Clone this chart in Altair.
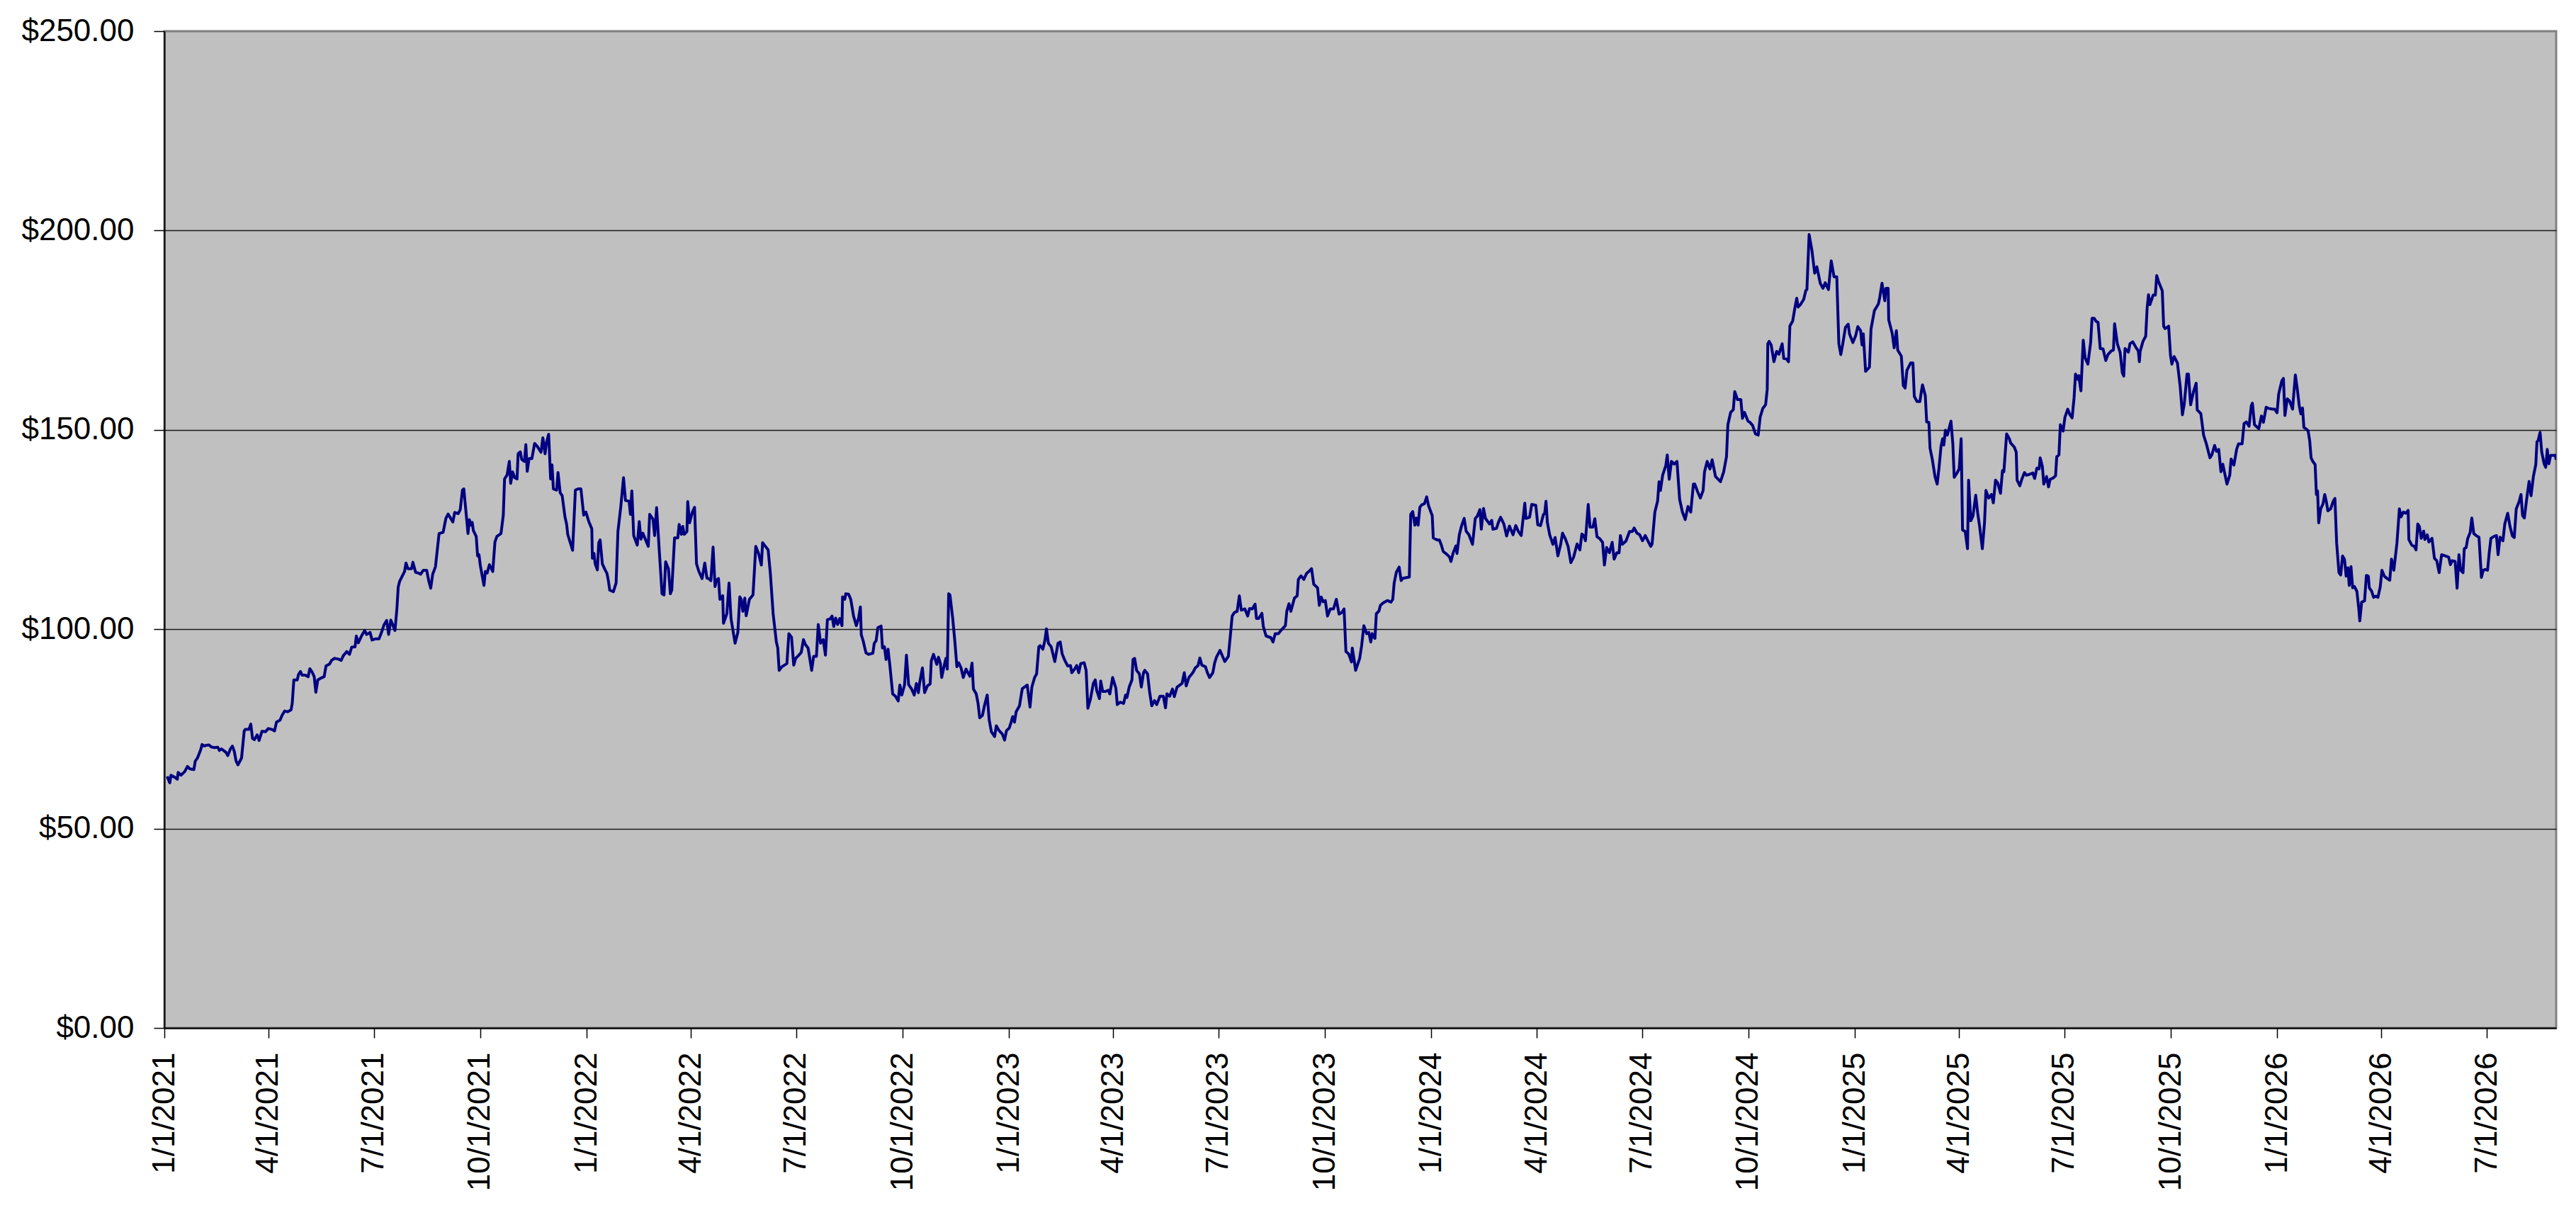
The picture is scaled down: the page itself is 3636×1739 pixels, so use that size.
import altair as alt
import pandas as pd

START = "2021-01-01"

# (days since 1/1/2021, price), one list per year
seg_2021 = [
    (2.4, 63.1), (4.7, 61.5), (5.7, 63.4), (8.8, 62.9), (11.2, 62.4), (11.9, 64.1), (14.3, 63.4), (17.6, 64.3), (20.0, 65.6), (21.9, 65.0),
    (25.5, 64.8), (26.7, 66.9), (28.6, 67.7), (31.4, 69.8), (32.6, 71.1), (34.5, 70.7), (36.2, 70.9), (38.6, 71.0), (40.5, 70.5), (43.3, 70.3),
    (46.2, 70.4), (47.6, 69.6), (49.3, 70.0), (51.6, 69.5), (53.3, 69.1), (54.8, 68.3), (57.1, 70.0), (58.8, 70.7), (60.5, 69.3), (61.9, 67.0),
    (63.6, 66.0), (66.7, 67.7), (69.0, 74.5), (70.0, 74.9), (73.1, 74.9), (74.7, 76.2), (76.2, 72.6), (77.8, 72.3), (80.2, 73.5), (81.9, 72.1),
    (84.3, 74.4), (87.4, 74.3), (89.8, 75.1), (92.8, 74.9), (95.2, 74.5), (96.9, 76.7), (100.0, 77.2), (101.7, 78.4), (104.0, 79.5), (106.4, 79.3),
    (109.5, 79.8), (110.5, 81.4), (111.9, 87.3), (114.8, 87.3), (116.0, 88.7), (117.6, 89.4), (119.0, 88.5), (121.9, 88.5), (124.3, 88.1), (125.7, 90.1),
    (127.8, 89.2), (129.5, 88.1), (130.9, 84.2), (132.6, 87.3), (135.7, 87.8), (138.1, 88.1), (139.7, 90.8), (142.8, 91.3), (144.5, 92.2), (146.9, 92.7),
    (150.5, 92.5), (152.8, 92.2), (154.7, 93.4), (157.6, 94.4), (160.0, 93.7), (161.9, 95.5), (164.8, 95.6), (165.9, 98.3), (167.6, 96.6), (170.7, 98.5),
    (173.1, 99.7), (174.8, 98.7), (177.8, 99.2), (179.5, 97.3), (182.6, 97.6), (185.5, 97.6), (187.4, 99.0), (189.8, 101.1), (192.1, 102.2), (193.8, 98.7),
    (195.7, 102.3), (199.3, 99.7), (201.0, 105.3), (202.1, 110.6), (203.3, 112.0), (205.2, 113.1), (207.6, 114.5), (208.8, 116.6), (210.5, 115.2), (213.6, 115.2),
    (214.8, 116.8), (217.1, 114.3), (219.5, 114.1), (221.4, 113.8), (223.8, 114.8), (226.7, 114.8), (228.6, 112.0), (230.2, 110.3), (231.9, 113.8), (234.3, 115.7),
    (237.4, 124.0), (240.9, 124.3), (243.3, 127.8), (245.2, 128.9), (249.3, 126.9), (250.9, 129.3), (254.0, 129.0), (255.7, 130.0), (257.6, 134.9), (258.8, 135.2),
    (262.4, 124.0), (263.6, 127.5), (264.8, 126.1), (266.0, 126.8), (267.1, 124.7), (269.5, 123.3), (270.7, 118.4), (271.9, 118.7), (273.1, 115.9), (276.2, 111.0),
    (277.4, 114.5), (279.0, 114.1), (280.9, 116.2), (283.8, 114.5), (285.7, 121.9), (287.4, 123.3), (290.9, 124.0), (292.9, 128.6), (294.0, 137.7), (296.2, 138.7),
    (298.1, 142.1), (299.3, 136.6), (300.9, 139.5), (302.8, 138.0), (304.8, 137.7), (305.7, 144.0), (307.6, 144.5), (308.8, 142.6), (311.2, 142.1), (312.4, 146.3),
    (313.6, 139.6), (315.2, 142.8), (317.6, 142.8), (320.0, 146.6), (322.4, 145.8), (325.5, 144.4), (327.1, 148.0), (329.0, 144.0), (330.2, 146.8), (332.1, 148.9),
    (333.8, 137.7), (335.0, 141.2), (336.2, 135.2), (339.0, 134.9), (340.2, 139.3), (342.1, 134.2), (343.8, 133.5), (346.2, 128.2), (347.6, 126.4), (348.6, 123.8),
    (352.8, 119.8), (355.2, 134.9), (357.6, 135.2), (360.0, 135.2), (362.4, 128.6), (364.3, 129.4), (366.7, 127.1),
]

seg_2022 = [
    (369.4, 125.2), (369.9, 117.8), (371.3, 119.0), (372.3, 116.4), (374.2, 114.9), (375.4, 121.7), (376.6, 122.4), (378.5, 116.4), (380.9, 114.9), (382.5, 114.0),
    (383.7, 112.2), (384.9, 109.8), (388.0, 109.4), (390.4, 111.6), (392.0, 124.6), (394.4, 130.6), (396.8, 138.0), (398.5, 132.3), (401.6, 132.1), (402.8, 128.8),
    (404.0, 134.7), (405.6, 123.5), (408.7, 121.1), (410.4, 127.0), (411.8, 122.6), (413.5, 124.1), (415.9, 122.4), (418.2, 120.8), (419.4, 128.8), (422.3, 127.6),
    (423.7, 123.5), (425.4, 130.5), (427.8, 119.3), (430.1, 108.9), (431.8, 108.6), (433.2, 116.9), (435.6, 115.2), (437.3, 108.9), (438.5, 109.8), (440.9, 122.9),
    (443.7, 122.9), (444.9, 126.3), (446.8, 123.8), (448.0, 125.8), (449.2, 123.8), (451.6, 124.5), (452.3, 132.0), (453.9, 126.7), (456.3, 129.4), (458.2, 130.6),
    (459.9, 116.4), (461.8, 114.6), (464.7, 112.7), (467.0, 116.6), (468.9, 112.8), (470.6, 112.7), (472.3, 112.2), (474.2, 120.6), (475.9, 110.7), (477.0, 112.3),
    (478.9, 112.7), (480.1, 107.5), (482.5, 108.4), (483.2, 101.5), (486.1, 103.9), (488.0, 111.6), (489.7, 102.7), (493.2, 96.5), (495.6, 99.2), (497.3, 108.1),
    (498.5, 107.5), (499.9, 104.5), (501.6, 107.8), (502.8, 103.4), (505.6, 107.5), (508.7, 108.6), (509.9, 114.6), (511.1, 120.8), (513.5, 119.0), (515.9, 116.1),
    (517.0, 121.7), (519.4, 120.8), (521.8, 119.9), (523.7, 114.0), (526.1, 103.9), (528.9, 96.8), (530.1, 95.3), (531.3, 89.7), (533.7, 90.6), (538.0, 91.4),
    (539.7, 98.9), (542.0, 98.0), (543.9, 91.0), (545.6, 92.7), (548.0, 93.4), (550.4, 94.2), (552.3, 97.4), (553.9, 96.2), (556.3, 95.3), (559.4, 89.7),
    (561.1, 93.2), (563.5, 93.2), (565.1, 101.2), (567.1, 96.5), (569.4, 97.4), (571.3, 93.5), (573.0, 102.4), (575.4, 102.6), (577.0, 103.3), (578.5, 100.7),
    (580.1, 102.8), (581.8, 101.2), (583.7, 102.7), (585.6, 100.9), (586.1, 108.1), (588.0, 107.5), (588.9, 108.9), (591.3, 108.8), (593.2, 107.5), (595.6, 103.3),
    (598.0, 100.9), (599.9, 102.7), (601.5, 105.6), (602.3, 98.6), (603.9, 97.1), (606.3, 94.1), (608.7, 93.7), (612.3, 94.0), (613.5, 96.5), (615.1, 97.1),
    (616.6, 100.4), (619.4, 100.8), (620.6, 95.3), (622.3, 95.6), (623.7, 92.4), (625.4, 95.0), (627.0, 90.9), (629.4, 83.8), (631.8, 83.2), (634.2, 82.0),
    (635.6, 86.0), (637.3, 83.5), (639.7, 86.1), (641.3, 93.5), (643.2, 86.1), (645.6, 85.1), (648.0, 83.5), (649.9, 86.4), (651.6, 84.1), (652.8, 86.7),
    (655.1, 90.3), (657.0, 84.1), (659.4, 85.8), (661.8, 86.3), (662.8, 92.1), (664.7, 93.7), (667.5, 91.2), (669.0, 93.0), (670.6, 91.5), (671.8, 87.9),
    (673.7, 90.6), (675.4, 92.7), (676.6, 90.0), (677.8, 108.9), (678.9, 108.6), (681.3, 102.7), (683.2, 96.8), (684.9, 90.6), (686.5, 91.6), (688.5, 90.3),
    (690.4, 87.9), (692.8, 90.0), (696.1, 88.2), (698.0, 91.5), (699.2, 85.0), (701.6, 83.8), (703.2, 81.4), (704.6, 77.8), (707.0, 78.4), (708.7, 80.8),
    (711.1, 83.5), (712.8, 77.3), (714.7, 74.3), (717.5, 73.1), (719.0, 75.8), (721.3, 74.6), (724.2, 73.7), (726.1, 72.2), (727.8, 74.6), (730.1, 75.2),
    (731.8, 76.7),
]

seg_2023 = [
    (733.1, 78.1), (734.7, 76.7), (736.1, 79.3), (739.0, 80.8), (741.4, 85.1), (745.7, 86.0), (748.1, 80.5), (749.7, 85.5), (752.1, 87.9), (753.8, 88.8),
    (755.7, 95.6), (756.9, 95.9), (759.2, 95.0), (760.9, 97.1), (762.3, 100.1), (764.0, 96.5), (766.4, 95.6), (769.5, 91.9), (772.3, 96.5), (774.2, 96.8),
    (775.9, 93.8), (778.3, 92.1), (780.7, 90.8), (783.1, 90.9), (784.2, 89.1), (786.6, 90.0), (788.5, 90.9), (790.2, 89.1), (791.9, 91.4), (794.9, 91.6),
    (796.6, 89.7), (798.1, 80.2), (800.4, 82.6), (802.8, 86.4), (804.5, 87.3), (805.7, 84.7), (808.1, 82.6), (809.2, 87.0), (810.9, 84.4), (813.3, 84.4),
    (815.7, 84.7), (817.1, 83.8), (819.5, 87.9), (822.3, 85.2), (823.5, 81.1), (825.9, 81.7), (829.0, 81.4), (830.7, 83.5), (831.9, 82.9), (833.8, 85.5),
    (836.2, 87.3), (837.1, 92.4), (838.5, 92.7), (840.2, 89.7), (842.6, 88.8), (844.3, 85.5), (846.2, 89.1), (847.3, 89.7), (849.7, 88.8), (851.4, 84.4),
    (853.3, 80.8), (855.7, 82.1), (857.6, 81.1), (860.4, 83.2), (863.3, 83.2), (865.2, 80.3), (866.4, 83.8), (868.8, 83.2), (871.2, 85.0), (872.8, 83.1),
    (875.2, 85.5), (879.5, 86.4), (881.4, 89.1), (883.1, 85.8), (885.4, 87.9), (887.1, 88.5), (889.0, 89.2), (890.9, 90.3), (893.3, 90.9), (894.9, 92.8),
    (896.6, 91.0), (899.7, 90.6), (901.4, 89.1), (903.3, 87.9), (906.1, 89.1), (907.6, 91.5), (909.2, 93.0), (912.3, 94.7), (916.4, 91.9), (919.5, 93.2),
    (921.2, 98.3), (922.8, 103.3), (924.7, 104.2), (927.1, 104.5), (929.0, 108.4), (930.7, 104.8), (933.8, 105.1), (936.2, 103.3), (937.8, 105.2), (940.2, 105.1),
    (942.6, 106.3), (943.8, 102.7), (945.7, 102.7), (948.5, 104.0), (949.7, 100.7), (952.1, 98.3), (956.2, 97.9), (958.1, 96.8), (960.0, 98.9), (962.8, 98.9),
    (965.2, 99.8), (968.8, 100.9), (970.0, 104.5), (971.9, 106.4), (973.5, 104.5), (976.6, 107.8), (979.0, 108.4), (980.0, 112.5), (982.3, 113.4), (984.7, 112.5),
    (987.1, 114.0), (989.5, 114.6), (991.4, 115.2), (993.3, 111.3), (996.6, 110.4), (998.1, 106.0), (999.7, 108.1), (1001.4, 106.9), (1003.3, 107.2), (1005.2, 103.3),
    (1007.6, 105.1), (1010.4, 105.1), (1012.8, 107.5), (1015.2, 103.8), (1017.6, 104.2), (1019.5, 105.1), (1021.1, 94.4), (1023.5, 93.8), (1025.9, 91.8), (1026.6, 95.3),
    (1028.3, 92.1), (1029.5, 89.7), (1033.0, 92.7), (1034.7, 95.9), (1036.6, 100.9), (1039.0, 98.9), (1040.9, 99.2), (1042.6, 96.8), (1043.8, 98.9), (1046.2, 97.7),
    (1047.4, 103.9), (1049.7, 104.6), (1050.9, 106.0), (1053.3, 106.6), (1056.9, 107.2), (1060.0, 106.8), (1061.6, 107.5), (1062.8, 111.6), (1064.7, 114.3), (1067.1, 115.6),
    (1068.8, 112.2), (1070.4, 112.8), (1075.9, 113.1), (1077.1, 128.8), (1078.8, 129.5), (1080.7, 126.1), (1081.9, 127.9), (1083.5, 126.1), (1085.0, 130.6), (1086.6, 131.2),
    (1089.0, 131.5), (1090.9, 133.2), (1092.6, 130.9), (1095.7, 128.5), (1096.6, 122.9),
]

seg_2024 = [
    (1100.0, 122.4), (1101.9, 122.4), (1103.6, 121.1), (1105.2, 119.5), (1108.3, 118.8), (1110.7, 118.1), (1111.9, 117.0), (1113.8, 119.2), (1116.2, 120.9), (1117.1, 119.0),
    (1119.1, 123.7), (1121.0, 125.9), (1123.3, 127.8), (1125.0, 124.6), (1127.4, 123.7), (1130.5, 121.3), (1132.9, 127.8), (1134.5, 128.3), (1136.9, 130.0), (1138.1, 125.1),
    (1140.0, 130.3), (1141.7, 127.8), (1145.2, 126.4), (1147.1, 127.3), (1148.1, 125.1), (1151.2, 125.3), (1152.9, 126.8), (1154.8, 128.1), (1157.6, 126.4), (1160.0, 123.4),
    (1162.4, 125.9), (1165.5, 123.7), (1167.9, 126.0), (1170.2, 124.5), (1172.6, 123.5), (1175.7, 131.6), (1176.7, 127.8), (1179.8, 128.1), (1181.7, 131.3), (1185.2, 131.1),
    (1186.9, 126.2), (1189.3, 126.0), (1191.7, 128.7), (1192.9, 129.1), (1194.0, 132.1), (1195.2, 126.8), (1197.2, 123.7), (1200.0, 121.3), (1201.9, 123.0), (1204.3, 118.4),
    (1206.7, 121.3), (1208.3, 124.1), (1210.7, 122.7), (1213.1, 120.8), (1215.5, 116.7), (1217.9, 118.1), (1220.9, 121.4), (1223.3, 119.9), (1225.0, 123.9), (1226.7, 123.4),
    (1228.1, 122.2), (1230.5, 131.3), (1232.1, 125.6), (1234.5, 125.6), (1236.2, 127.7), (1238.1, 123.2), (1240.5, 122.7), (1242.9, 121.8), (1244.5, 116.1), (1246.4, 120.5),
    (1248.8, 119.2), (1251.2, 121.8), (1252.9, 117.6), (1255.2, 119.2), (1257.2, 119.2), (1258.3, 123.5), (1260.0, 121.3), (1263.1, 122.1), (1266.2, 124.5), (1268.6, 124.5),
    (1270.2, 125.4), (1272.6, 124.1), (1275.0, 123.7), (1277.4, 122.2), (1279.8, 123.5), (1282.2, 122.1), (1284.5, 120.8), (1285.7, 121.4), (1288.1, 129.4), (1290.5, 132.2),
    (1291.7, 137.0), (1292.9, 134.8), (1294.8, 138.6), (1297.6, 141.1), (1298.8, 143.7), (1300.5, 137.6), (1302.4, 142.1), (1304.8, 141.4), (1307.2, 142.1), (1309.5, 132.6),
    (1311.9, 129.4), (1314.3, 127.5), (1316.7, 130.8), (1319.1, 129.4), (1321.4, 136.4), (1322.6, 136.4), (1325.0, 134.5), (1327.4, 132.9), (1329.8, 134.8), (1331.0, 139.5),
    (1333.3, 142.1), (1335.7, 140.2), (1337.6, 142.5), (1340.5, 138.3), (1342.9, 137.6), (1344.8, 137.0), (1347.6, 139.5), (1350.0, 143.3), (1351.2, 151.3), (1353.6, 154.4),
    (1355.9, 155.1), (1357.1, 159.6), (1359.5, 157.6), (1362.4, 157.6), (1363.8, 152.9), (1365.5, 154.4), (1368.6, 152.2), (1370.3, 151.9), (1372.6, 151.1), (1375.0, 149.0),
    (1377.4, 148.7), (1379.1, 153.2), (1381.4, 155.4), (1383.8, 156.3), (1385.2, 160.2), (1385.7, 171.6), (1386.9, 172.2), (1388.6, 171.3), (1391.0, 167.1), (1393.3, 169.7),
    (1395.3, 169.0), (1398.1, 171.6), (1399.5, 167.9), (1401.9, 167.8), (1403.6, 167.1), (1404.8, 176.1), (1407.2, 177.3), (1409.1, 180.6), (1410.7, 183.0), (1411.9, 180.8),
    (1413.8, 181.4), (1416.7, 182.7), (1418.6, 185.0), (1419.5, 185.2), (1421.4, 199.0), (1423.8, 195.1), (1426.2, 189.3), (1428.1, 190.9), (1431.0, 186.8), (1433.4, 185.5),
    (1435.3, 186.9), (1438.1, 185.2), (1440.5, 192.4), (1442.9, 188.4), (1445.3, 188.4), (1447.1, 171.6), (1448.8, 168.9), (1450.5, 171.6),
]

seg_2025 = [
    (1452.8, 175.7), (1455.2, 176.5), (1456.3, 174.1), (1459.2, 171.9), (1461.6, 173.6), (1463.5, 175.9), (1465.9, 174.9), (1467.1, 171.3), (1468.2, 174.1), (1470.2, 164.7),
    (1473.5, 165.7), (1474.9, 175.3), (1477.8, 179.9), (1481.3, 181.6), (1482.5, 183.3), (1484.4, 186.8), (1486.8, 182.4), (1487.8, 185.5), (1489.7, 185.5), (1490.2, 177.6),
    (1493.2, 174.2), (1494.9, 170.6), (1496.8, 174.9), (1498.0, 170.0), (1501.1, 168.5), (1502.8, 161.1), (1504.4, 160.5), (1505.9, 164.9), (1509.2, 166.8), (1511.1, 166.8),
    (1512.3, 158.4), (1514.7, 157.1), (1517.1, 157.1), (1518.3, 159.4), (1519.4, 161.3), (1521.8, 158.6), (1523.0, 152.0), (1524.9, 151.9), (1525.9, 145.4), (1527.8, 142.7),
    (1530.2, 138.3), (1532.1, 136.4), (1533.7, 140.6), (1535.4, 145.9), (1536.8, 147.8), (1537.8, 146.2), (1539.2, 149.9), (1540.9, 148.7), (1544.0, 152.2), (1545.6, 146.5),
    (1546.8, 138.1), (1549.2, 139.2), (1551.1, 140.2), (1552.8, 147.8), (1554.0, 124.9), (1556.3, 124.5), (1558.3, 120.2), (1559.2, 137.4), (1561.1, 127.2), (1563.0, 128.4),
    (1565.4, 133.6), (1567.1, 129.1), (1568.7, 125.9), (1571.1, 120.2), (1573.0, 126.8), (1574.2, 134.8), (1576.6, 132.9), (1579.0, 133.8), (1580.6, 131.7), (1582.5, 137.4),
    (1584.4, 136.7), (1586.8, 134.1), (1588.5, 139.8), (1589.7, 139.5), (1592.1, 149.0), (1594.4, 147.8), (1595.6, 146.7), (1598.7, 145.7), (1600.4, 144.4), (1601.1, 137.4),
    (1603.5, 136.0), (1605.2, 137.6), (1607.5, 139.3), (1609.2, 138.6), (1612.3, 138.9), (1614.7, 139.2), (1616.3, 137.8), (1618.2, 140.4), (1620.2, 140.2), (1621.1, 143.0),
    (1623.0, 140.8), (1624.2, 136.4), (1626.6, 138.3), (1628.3, 135.7), (1629.7, 137.6), (1632.1, 137.9), (1634.4, 138.5), (1635.4, 143.3), (1637.3, 143.7), (1638.5, 151.3),
    (1640.9, 149.7), (1642.5, 153.2), (1644.9, 155.2), (1646.8, 153.8), (1648.7, 153.0), (1650.4, 158.1), (1651.6, 164.0), (1653.5, 162.7), (1654.4, 163.6), (1656.3, 159.8),
    (1658.3, 172.5), (1659.9, 168.1), (1662.3, 166.5), (1664.7, 171.9), (1665.9, 178.0), (1667.8, 178.0), (1669.4, 177.2), (1671.1, 177.0), (1673.0, 170.4), (1675.4, 170.3),
    (1677.8, 167.4), (1679.7, 168.9), (1682.5, 169.8), (1684.4, 170.0), (1685.4, 176.6), (1687.8, 171.6), (1690.2, 169.4), (1692.1, 164.3), (1693.3, 163.5), (1694.4, 170.4),
    (1697.3, 169.5), (1698.7, 171.6), (1701.1, 172.1), (1704.0, 170.6), (1705.9, 169.8), (1706.8, 167.1), (1707.5, 169.7), (1709.9, 172.2), (1712.3, 173.5), (1713.5, 180.5),
    (1714.7, 183.9), (1715.9, 181.4), (1718.7, 183.8), (1720.6, 183.8), (1721.8, 188.7), (1723.5, 187.1), (1726.6, 184.9), (1727.8, 176.0), (1729.0, 175.4), (1732.1, 176.0),
    (1733.7, 168.7), (1734.9, 166.5), (1736.8, 168.4), (1739.7, 166.8), (1742.1, 160.8), (1744.0, 153.8), (1745.6, 156.5), (1748.0, 164.0), (1749.2, 164.0), (1751.1, 156.3),
    (1753.5, 159.5), (1755.9, 161.7), (1756.8, 155.0), (1759.9, 154.1), (1762.3, 148.7), (1764.7, 146.5), (1767.8, 143.0), (1769.4, 143.7), (1771.8, 146.1), (1773.5, 144.6),
    (1775.4, 145.1), (1777.3, 139.5), (1778.9, 141.4), (1782.5, 136.4), (1784.9, 138.6), (1786.1, 142.7), (1788.5, 141.2), (1790.9, 145.2), (1792.5, 146.5), (1795.6, 146.5),
    (1797.3, 151.6), (1799.2, 152.0), (1801.6, 150.9), (1803.5, 156.0), (1804.5, 156.7), (1806.3, 151.3), (1810.0, 150.3), (1812.3, 153.5), (1814.0, 151.9), (1816.4, 155.7),
    (1818.3, 155.4), (1821.8, 155.2),
]

seg_2026 = [
    (1823.7, 155.2), (1825.8, 154.3), (1827.2, 159.0), (1829.9, 162.3), (1831.3, 162.9), (1832.6, 153.6), (1834.6, 157.8), (1836.7, 157.2), (1839.2, 155.2), (1841.6, 163.8),
    (1843.3, 160.2), (1845.0, 156.0), (1846.4, 154.0), (1847.8, 155.5), (1849.0, 150.6), (1851.1, 150.2), (1852.6, 149.8), (1854.0, 147.3), (1855.2, 143.0), (1856.7, 142.1),
    (1858.7, 141.3), (1859.8, 133.8), (1860.8, 134.7), (1861.8, 126.7), (1863.5, 130.2), (1865.5, 131.4), (1867.0, 133.8), (1868.4, 132.0), (1869.7, 129.7), (1872.1, 130.2),
    (1874.2, 132.0), (1875.8, 132.8), (1877.3, 121.6), (1879.3, 114.2), (1880.8, 113.6), (1882.4, 118.4), (1884.1, 117.5), (1885.5, 113.3), (1887.0, 115.4), (1888.2, 111.0),
    (1889.7, 115.7), (1891.1, 110.4), (1892.7, 110.7), (1894.8, 109.5), (1896.4, 105.2), (1897.3, 102.1), (1898.9, 106.8), (1901.4, 107.1), (1903.0, 113.5), (1904.7, 113.3),
    (1905.5, 110.4), (1907.6, 109.5), (1909.2, 108.0), (1911.3, 108.3), (1913.0, 108.0), (1915.0, 110.7), (1916.4, 114.8), (1918.5, 113.3), (1920.6, 112.8), (1923.2, 112.3),
    (1924.7, 117.6), (1926.7, 114.8), (1929.4, 121.6), (1931.5, 130.2), (1932.9, 128.2), (1935.0, 129.4), (1937.0, 129.1), (1939.1, 129.8), (1939.7, 122.5), (1942.2, 121.1),
    (1944.3, 120.8), (1945.9, 119.9), (1947.4, 126.4), (1948.8, 125.8), (1950.4, 122.8), (1952.5, 124.6), (1953.5, 122.5), (1955.6, 123.7), (1957.0, 121.9), (1959.7, 122.8),
    (1961.8, 117.8), (1963.8, 117.2), (1965.9, 114.2), (1968.0, 118.7), (1971.1, 118.4), (1974.1, 118.1), (1975.6, 116.2), (1977.2, 117.2), (1979.7, 117.0), (1981.4, 110.3),
    (1983.0, 118.7), (1984.5, 114.8), (1986.5, 114.2), (1987.6, 120.2), (1989.2, 120.5), (1990.6, 122.8), (1992.7, 124.3), (1994.1, 127.9), (1995.8, 124.0), (1998.3, 123.4),
    (2000.3, 123.1), (2002.4, 113.0), (2004.0, 114.8), (2005.7, 115.0), (2007.7, 114.8), (2009.2, 119.3), (2010.6, 122.8), (2013.3, 123.3), (2015.4, 123.5), (2016.8, 118.7),
    (2018.5, 123.1), (2021.0, 122.2), (2022.6, 126.4), (2025.1, 129.1), (2027.1, 125.8), (2029.2, 123.4), (2030.8, 123.0), (2032.5, 130.2), (2035.0, 132.0), (2036.6, 133.8),
    (2038.0, 128.5), (2039.5, 127.9), (2041.5, 132.6), (2043.6, 137.1), (2045.3, 133.5), (2047.3, 138.3), (2049.4, 141.3), (2050.4, 147.0), (2051.4, 147.3), (2053.1, 149.4),
    (2054.5, 144.5), (2056.6, 141.5), (2058.0, 140.6), (2059.3, 145.1), (2060.7, 141.5), (2062.2, 143.6), (2064.2, 143.6), (2066.3, 143.6), (2067.0, 142.5),
]

tick_dates = [
    "2021-01-01", "2021-04-01", "2021-07-01", "2021-10-01",
    "2022-01-01", "2022-04-01", "2022-07-01", "2022-10-01",
    "2023-01-01", "2023-04-01", "2023-07-01", "2023-10-01",
    "2024-01-01", "2024-04-01", "2024-07-01", "2024-10-01",
    "2025-01-01", "2025-04-01", "2025-07-01", "2025-10-01",
    "2026-01-01", "2026-04-01", "2026-07-01",
]
y_ticks = [0, 50, 100, 150, 200, 250]

DAY_MS = 86400000
base_ms = pd.Timestamp(START, tz="UTC").value // 10**6

rows = []
for seg in [seg_2021, seg_2022, seg_2023, seg_2024, seg_2025, seg_2026]:
    for d, p in seg:
        rows.append({"t": base_ms + d * DAY_MS, "price": p})
df = pd.DataFrame(rows)

tick_ms = [int(pd.Timestamp(s, tz="UTC").value // 10**6) for s in tick_dates]
x_end = float(df["t"].max())

FONT = "Liberation Sans"

line = alt.Chart(df).mark_line(
    color="#000080", strokeWidth=4, clip=True, strokeJoin="round"
).encode(
    x=alt.X(
        "t:T",
        scale=alt.Scale(type="utc", domain=[float(base_ms), x_end], nice=False),
        axis=alt.Axis(
            values=tick_ms,
            labelExpr="utcFormat(datum.value, '%-m/%-d/%Y')",
            labelAngle=270,
            labelFontSize=44,
            labelFont=FONT,
            labelColor="#000000",
            labelPadding=20,
            labelLimit=1000,
            labelOverlap=False,
            labelBound=False,
            labelFlush=False,
            tickSize=14,
            tickColor="#000000",
            tickWidth=1.5,
            domainColor="#000000",
            domainWidth=2,
            grid=False,
            title=None,
        ),
    ),
    y=alt.Y(
        "price:Q",
        scale=alt.Scale(domain=[0, 250], nice=False),
        axis=alt.Axis(
            values=y_ticks,
            format="$,.2f",
            labelFontSize=44,
            labelFont=FONT,
            labelColor="#000000",
            labelPadding=28,
            labelLimit=1000,
            labelOverlap=False,
            labelFlush=False,
            tickSize=15,
            tickColor="#000000",
            tickWidth=1.5,
            domainColor="#000000",
            domainWidth=2,
            grid=True,
            gridColor={"condition": {"test": "datum.value == 250", "value": "#808080"}, "value": "#1a1a1a"},
            gridWidth=1.5,
            title=None,
        ),
    ),
)

chart = line.properties(
    width=3376,
    height=1407,
    autosize=alt.AutoSizeParams(type="none"),
    padding={"left": 224, "top": 36, "right": 20, "bottom": 260},
    background="#FFFFFF",
).configure_view(
    fill="#C0C0C0", stroke="#808080", strokeWidth=3
)

chart.save("out.html", embed_options={"renderer": "svg", "actions": False})
